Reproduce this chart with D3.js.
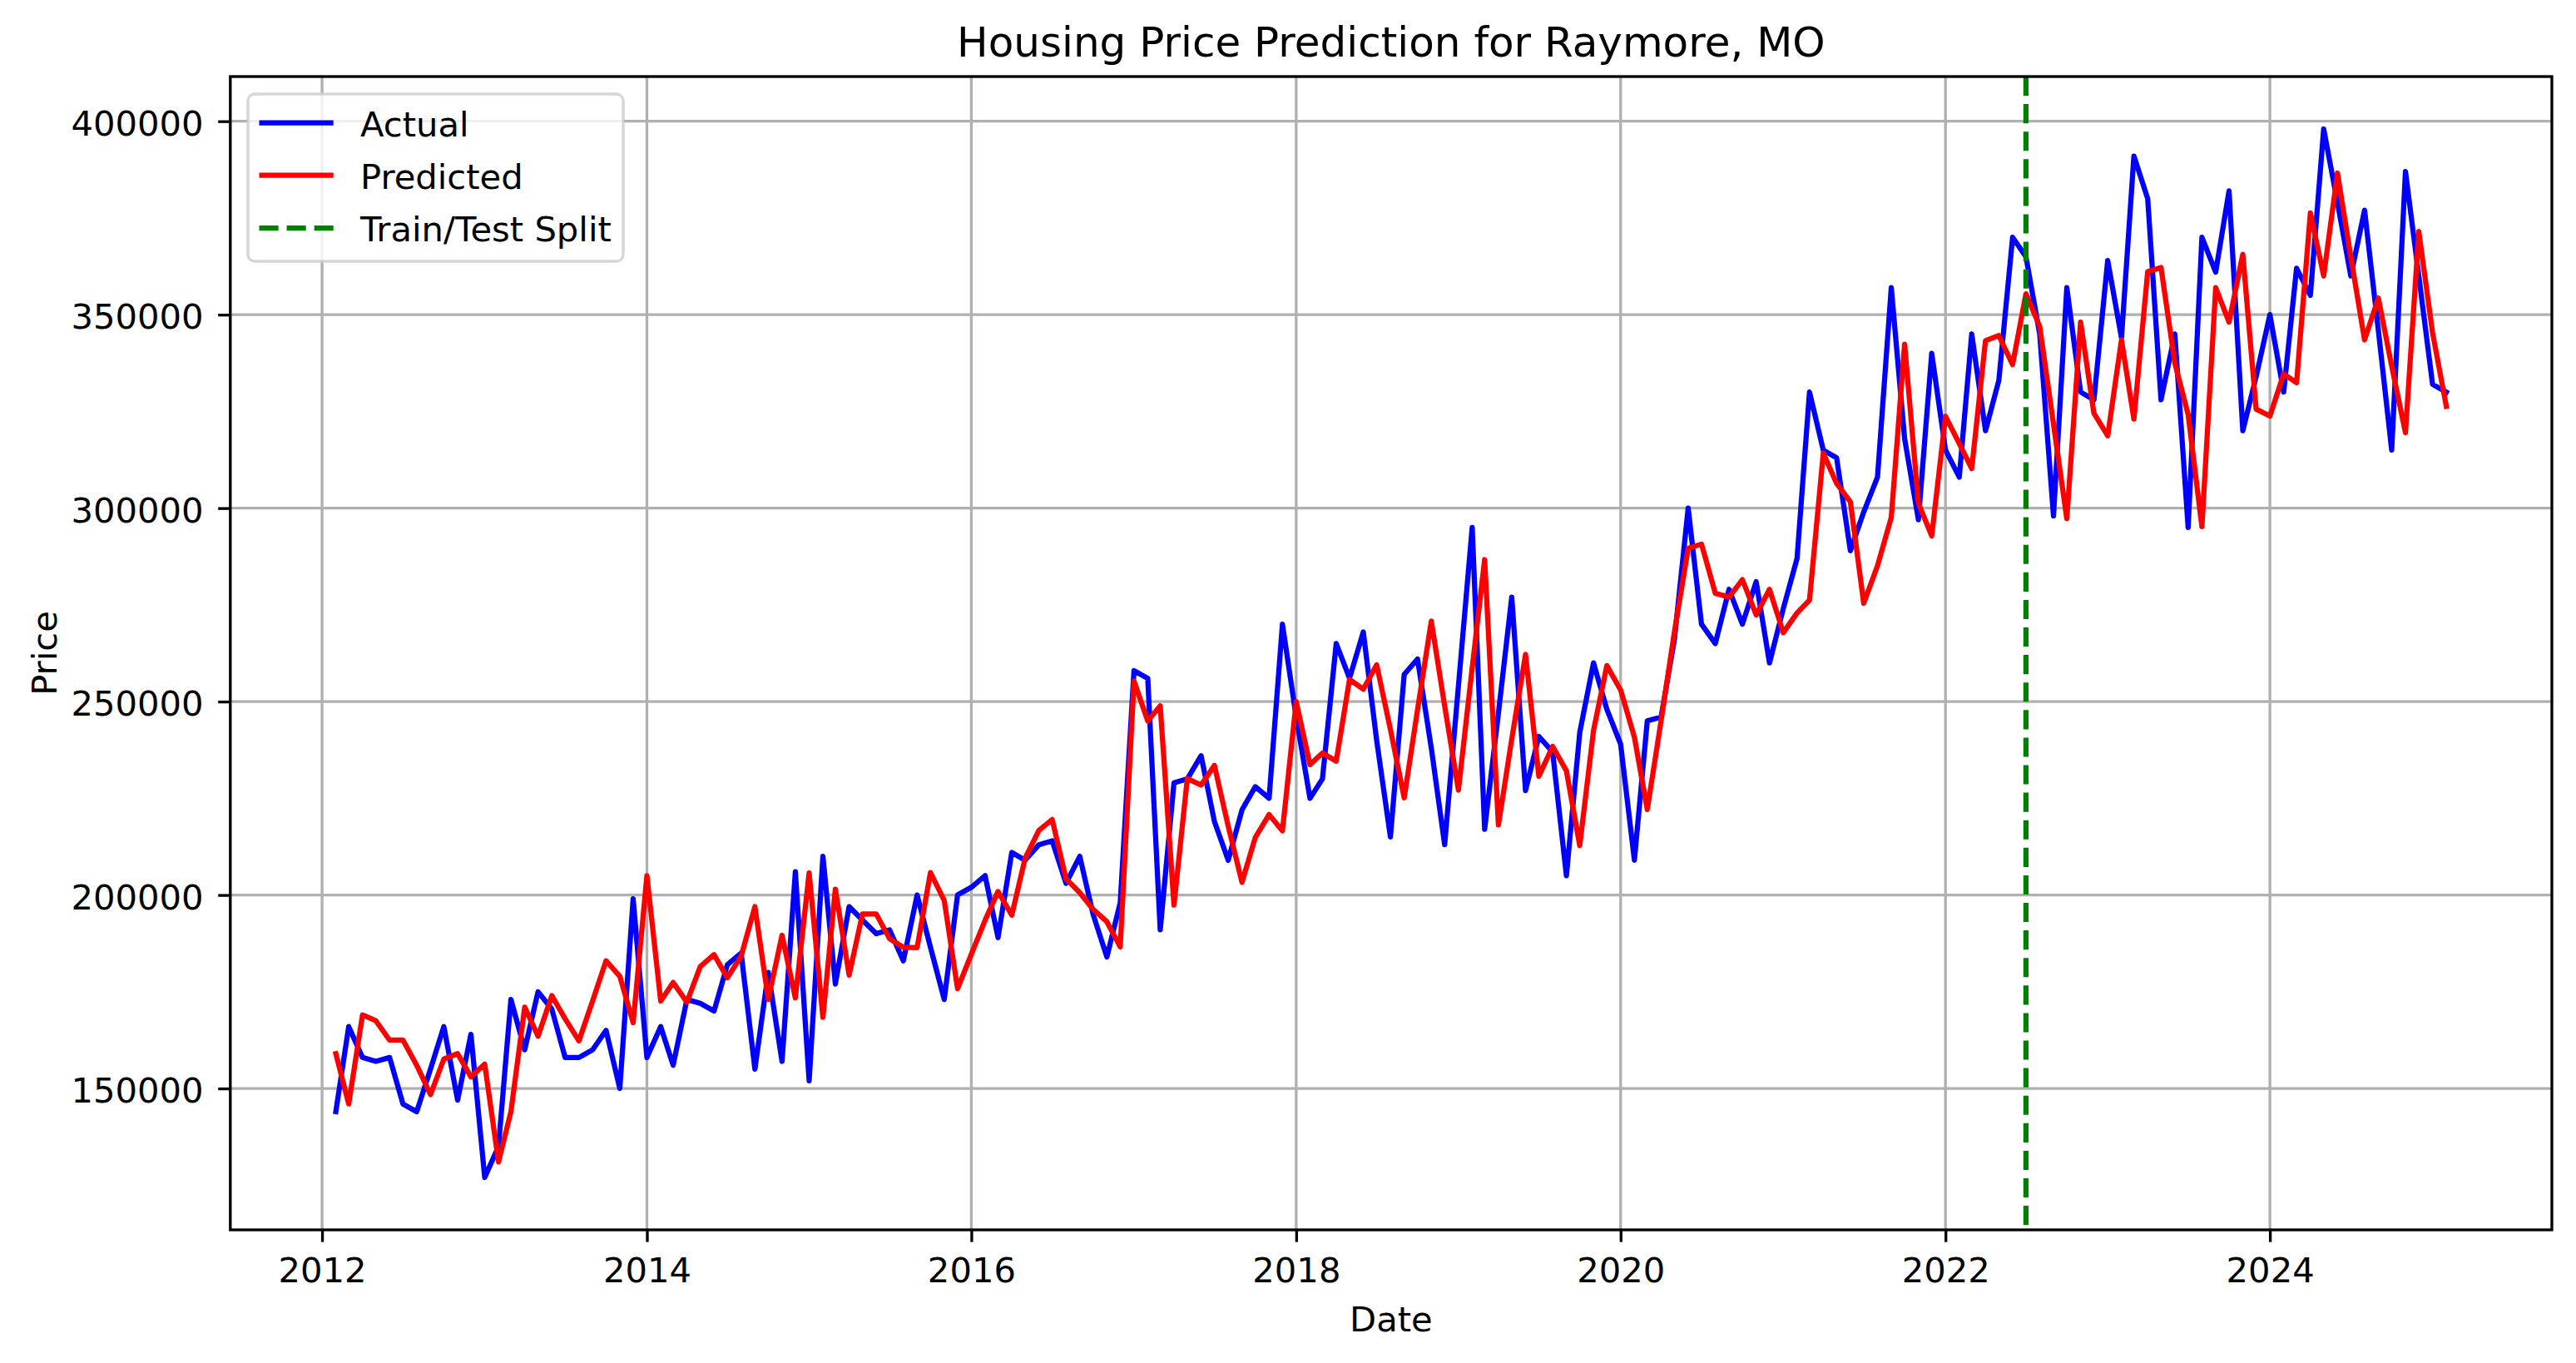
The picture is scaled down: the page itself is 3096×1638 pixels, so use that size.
<!DOCTYPE html>
<html>
<head>
<meta charset="utf-8">
<script src="https://cdn.jsdelivr.net/npm/d3@7"></script>
<style>
  html, body { margin: 0; padding: 0; background: #fff; }
  svg { display: block; font-family: "DejaVu Sans", sans-serif; }
</style>
</head>
<body>
<svg id="chart" width="3096" height="1638"></svg>
<script>
// ---------- DATA ----------
const title = "Housing Price Prediction for Raymore, MO";
const xLabel = "Date";
const yLabel = "Price";
const seriesNames = ["Actual", "Predicted", "Train/Test Split"];
const splitDate = "2022-07";

const months = [
  "2012-02","2012-03","2012-04","2012-05","2012-06","2012-07","2012-08","2012-09","2012-10","2012-11","2012-12",
  "2013-01","2013-02","2013-03","2013-04","2013-05","2013-06","2013-07","2013-08","2013-09","2013-10","2013-11","2013-12",
  "2014-01","2014-02","2014-03","2014-04","2014-05","2014-06","2014-07","2014-08","2014-09","2014-10","2014-11","2014-12",
  "2015-01","2015-02","2015-03","2015-04","2015-05","2015-06","2015-07","2015-08","2015-09","2015-10","2015-11","2015-12",
  "2016-01","2016-02","2016-03","2016-04","2016-05","2016-06","2016-07","2016-08","2016-09","2016-10","2016-11","2016-12",
  "2017-01","2017-02","2017-03","2017-04","2017-05","2017-06","2017-07","2017-08","2017-09","2017-10","2017-11","2017-12",
  "2018-01","2018-02","2018-03","2018-04","2018-05","2018-06","2018-07","2018-08","2018-09","2018-10","2018-11","2018-12",
  "2019-01","2019-02","2019-03","2019-04","2019-05","2019-06","2019-07","2019-08","2019-09","2019-10","2019-11","2019-12",
  "2020-01","2020-02","2020-03","2020-04","2020-05","2020-06","2020-07","2020-08","2020-09","2020-10","2020-11","2020-12",
  "2021-01","2021-02","2021-03","2021-04","2021-05","2021-06","2021-07","2021-08","2021-09","2021-10","2021-11","2021-12",
  "2022-01","2022-02","2022-03","2022-04","2022-05","2022-06","2022-07","2022-08","2022-09","2022-10","2022-11","2022-12",
  "2023-01","2023-02","2023-03","2023-04","2023-05","2023-06","2023-07","2023-08","2023-09","2023-10","2023-11","2023-12",
  "2024-01","2024-02","2024-03","2024-04","2024-05","2024-06","2024-07","2024-08","2024-09","2024-10","2024-11","2024-12",
  "2025-01","2025-02"
];

const actual = [
  144000,166000,158000,157000,158000,146000,144000,155000,166000,147000,164000,
  127000,135000,173000,160000,175000,170500,158000,158000,160000,165000,150000,199000,
  158000,166000,156000,173000,172000,170000,182000,185000,155000,180000,157000,206000,
  152000,210000,177000,197000,193500,190000,191000,183000,200000,186500,173000,200000,
  202000,205000,189000,211000,209000,213000,214000,203000,210000,195000,184000,198000,
  258000,256000,191000,229000,230000,236000,219000,209000,222000,228000,225000,270000,
  246000,225000,230000,265000,256000,268000,240000,215000,257000,261000,238000,213000,
  254000,295000,217000,247000,277000,227000,241000,237000,205000,242000,260000,248000,
  239000,209000,245000,246000,266000,300000,270000,265000,279000,270000,281000,260000,
  274000,287000,330000,315000,313000,289000,299000,308000,357000,318000,297000,340000,
  315000,308000,345000,320000,333000,370000,365000,345000,298000,357000,330000,328000,
  364000,344000,391000,380000,328000,345000,295000,370000,361000,382000,320000,334000,
  350000,330000,362000,355000,398000,379000,360000,377000,346000,315000,387000,360000,
  332000,330000
];

const predicted = [
  159000,146000,169000,167500,162500,162500,156000,148400,157600,159000,153000,
  156300,131000,144000,171000,163500,174000,168000,162300,172700,183000,179000,167000,
  205000,172600,177400,172300,181500,184600,178600,184200,197000,173000,189600,173400,
  205700,168400,201500,179300,195100,195100,188700,186500,186400,205800,198600,175800,
  184700,193500,200900,194800,209500,216700,219500,204200,200600,196300,193100,186600,
  255300,245000,248900,197400,230100,228400,233500,217800,203300,214900,220800,216600,
  250000,233700,236700,234600,255700,253200,259500,242800,225100,247900,270800,248900,
  227100,258700,286700,218100,240300,262200,230700,238400,232100,212800,242500,259300,
  253000,240800,222100,245000,268000,289600,290700,278000,277000,281500,272400,279000,
  267800,272900,276200,314200,306400,301600,275400,285100,297600,342400,301300,292800,
  323700,316700,310200,343300,344600,337100,355400,347000,321700,297300,348100,324500,
  318700,343500,323000,361100,362200,337500,324200,295200,357000,348100,365600,325600,
  323800,334700,332400,376300,360000,386600,365000,343500,354300,336700,319500,371500,
  345300,326300
];

const xTickLabels = ["2012","2014","2016","2018","2020","2022","2024"];
const yTickValues = [150000,200000,250000,300000,350000,400000];

// ---------- LAYOUT ----------
const W = 3096, H = 1638;
const L = 276.8, R = 3067, T = 92, B = 1478;
const FS = 41.7;          // 10pt @300dpi
const LW = 6.25;          // 1.5pt
const GRID_W = 3.33;      // 0.8pt
const TICK = 14.6;        // 3.5pt

const parseMonth = d3.utcParse("%Y-%m");
const dates = months.map(parseMonth);

const svg = d3.select("#chart");
svg.append("rect").attr("width", W).attr("height", H).attr("fill", "#fff");

const t0 = d3.min(dates), t1 = d3.max(dates);
const tPad = (t1 - t0) * 0.05;
const x = d3.scaleUtc()
  .domain([new Date(+t0 - tPad), new Date(+t1 + tPad)])
  .range([L, R]);

const allVals = actual.concat(predicted);
const vMin = d3.min(allVals), vMax = d3.max(allVals);
const vPad = (vMax - vMin) * 0.05;
const y = d3.scaleLinear()
  .domain([vMin - vPad, vMax + vPad])
  .range([B, T]);

const xTickDates = xTickLabels.map(s => d3.utcParse("%Y")(s));

// ---------- GRID ----------
const grid = svg.append("g").attr("class", "grid");
grid.selectAll("line.vx").data(xTickDates).join("line")
  .attr("x1", d => x(d)).attr("x2", d => x(d))
  .attr("y1", T).attr("y2", B)
  .attr("stroke", "#b0b0b0").attr("stroke-width", GRID_W);
grid.selectAll("line.hy").data(yTickValues).join("line")
  .attr("x1", L).attr("x2", R)
  .attr("y1", d => y(d)).attr("y2", d => y(d))
  .attr("stroke", "#b0b0b0").attr("stroke-width", GRID_W);

// ---------- LINES ----------
const lineGen = vals => d3.line()
  .x((d, i) => x(dates[i]))
  .y(d => y(d))(vals);

const plot = svg.append("g");
plot.append("path").attr("d", lineGen(actual))
  .attr("fill", "none").attr("stroke", "#0000ff").attr("stroke-width", LW)
  .attr("stroke-linejoin", "round").attr("stroke-linecap", "square");
plot.append("path").attr("d", lineGen(predicted))
  .attr("fill", "none").attr("stroke", "#ff0000").attr("stroke-width", LW)
  .attr("stroke-linejoin", "round").attr("stroke-linecap", "square");

const splitX = x(parseMonth(splitDate));
plot.append("line")
  .attr("x1", splitX).attr("x2", splitX).attr("y1", T).attr("y2", B)
  .attr("stroke", "#008000").attr("stroke-width", LW)
  .attr("stroke-dasharray", "23.1,10");

// ---------- SPINES ----------
svg.append("rect")
  .attr("x", L).attr("y", T).attr("width", R - L).attr("height", B - T)
  .attr("fill", "none").attr("stroke", "#000").attr("stroke-width", GRID_W);

// ---------- AXES ----------
const xAxis = d3.axisBottom(x)
  .tickValues(xTickDates)
  .tickFormat((d, i) => xTickLabels[i])
  .tickSize(TICK).tickSizeOuter(0).tickPadding(18.8);
const gx = svg.append("g").attr("transform", `translate(0,${B})`).call(xAxis);
gx.select(".domain").remove();
gx.selectAll(".tick line").attr("stroke", "#000").attr("stroke-width", GRID_W);
gx.selectAll(".tick text").attr("font-size", FS).attr("fill", "#000")
  .attr("font-family", "DejaVu Sans");

const yAxis = d3.axisLeft(y)
  .tickValues(yTickValues)
  .tickFormat(d3.format("d"))
  .tickSize(TICK).tickSizeOuter(0).tickPadding(17.6);
const gy = svg.append("g").attr("transform", `translate(${L},0)`).call(yAxis);
gy.select(".domain").remove();
gy.selectAll(".tick line").attr("stroke", "#000").attr("stroke-width", GRID_W);
gy.selectAll(".tick text").attr("font-size", FS).attr("fill", "#000")
  .attr("dy", "0.4em").attr("font-family", "DejaVu Sans");

// ---------- LABELS ----------
svg.append("text").text(title)
  .attr("x", (L + R) / 2).attr("y", 68)
  .attr("text-anchor", "middle").attr("font-size", 50).attr("fill", "#000");

svg.append("text").text(xLabel)
  .attr("x", (L + R) / 2).attr("y", 1600)
  .attr("text-anchor", "middle").attr("font-size", FS).attr("fill", "#000");

svg.append("text").text(yLabel)
  .attr("transform", `translate(68,${(T + B) / 2}) rotate(-90)`)
  .attr("text-anchor", "middle").attr("font-size", FS).attr("fill", "#000");

// ---------- LEGEND ----------
const lg = svg.append("g");
lg.append("rect")
  .attr("x", 298).attr("y", 113).attr("width", 451).attr("height", 201)
  .attr("rx", 8).attr("ry", 8)
  .attr("fill", "#fff").attr("fill-opacity", 0.8)
  .attr("stroke", "#cccccc").attr("stroke-opacity", 0.8).attr("stroke-width", GRID_W);

const legendItems = [
  { name: seriesNames[0], color: "#0000ff", dash: null },
  { name: seriesNames[1], color: "#ff0000", dash: null },
  { name: seriesNames[2], color: "#008000", dash: "23.1,10" }
];
const rowY = [147.7, 210.7, 274];
legendItems.forEach((it, i) => {
  const ln = lg.append("line")
    .attr("x1", 311.5).attr("x2", 400.7)
    .attr("y1", rowY[i]).attr("y2", rowY[i])
    .attr("stroke", it.color).attr("stroke-width", LW);
  if (it.dash) ln.attr("stroke-dasharray", it.dash);
  lg.append("text").text(it.name)
    .attr("x", 433).attr("y", rowY[i] + 16.3)
    .attr("font-size", FS).attr("fill", "#000");
});
</script>
</body>
</html>
